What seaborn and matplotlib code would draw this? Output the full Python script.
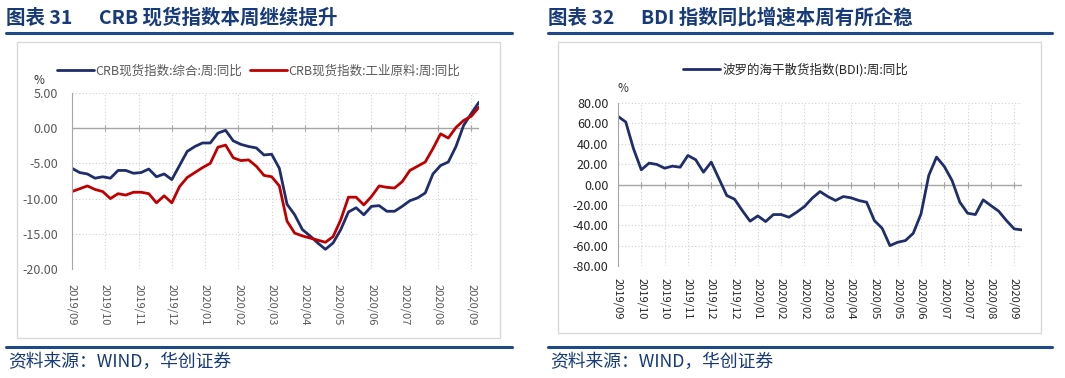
import numpy as np
import pandas as pd
import seaborn as sns
import matplotlib.pyplot as plt
from matplotlib.patches import Rectangle
from matplotlib.lines import Line2D

# 左图: CRB现货指数周同比 (%)
crb_total = [-5.7, -6.3, -6.5, -7.1, -6.9, -7.1, -6.0, -6.0, -6.4, -6.3, -5.8, -6.9, -6.5, -7.3,
             -5.3, -3.3, -2.6, -2.1, -2.1, -0.7, -0.3, -1.8, -2.3, -2.6, -2.8, -3.8, -3.7, -5.7,
             -10.8, -12.3, -14.4, -15.3, -16.3, -17.2, -16.3, -14.4, -11.9, -11.3, -12.3, -11.1,
             -11.0, -11.8, -11.8, -11.1, -10.3, -9.9, -9.2, -6.5, -5.3, -4.8, -2.6, 0.4, 2.1, 3.7]
crb_raw = [-9.0, -8.6, -8.2, -8.7, -9.0, -10.0, -9.3, -9.5, -9.1, -9.1, -9.3, -10.6, -9.6, -10.6,
           -8.3, -7.0, -6.3, -5.6, -5.0, -2.7, -2.4, -4.2, -4.6, -4.5, -5.4, -6.7, -6.9, -8.2,
           -13.2, -14.9, -15.3, -15.6, -15.9, -16.2, -15.4, -13.0, -9.8, -9.8, -10.9, -9.7,
           -8.2, -8.4, -8.5, -7.6, -6.0, -5.4, -4.8, -2.9, -0.8, -1.4, 0.1, 1.1, 1.7, 3.0]
left_ticklabels = ["2019/09", "2019/10", "2019/11", "2019/12", "2020/01", "2020/02", "2020/03",
                   "2020/04", "2020/05", "2020/06", "2020/07", "2020/08", "2020/09"]

# 右图: BDI周同比 (%)
bdi = [66.9, 61.3, 35.0, 14.4, 21.0, 19.7, 16.0, 18.0, 17.0, 28.5, 24.3, 12.1, 22.0, 5.6,
       -10.8, -14.4, -25.6, -36.0, -30.8, -36.4, -29.5, -29.5, -32.1, -27.2, -21.6, -13.4,
       -6.9, -11.8, -15.7, -11.8, -13.1, -15.7, -17.4, -35.4, -43.0, -60.0, -56.7, -55.0,
       -47.9, -28.9, 8.9, 26.9, 17.7, 3.9, -17.4, -28.2, -29.5, -15.1, -20.7, -26.2, -35.4,
       -43.6, -44.6]
right_ticklabels = ["2019/09", "2019/10", "2019/10", "2019/11", "2019/12", "2019/12", "2020/01",
                    "2020/02", "2020/02", "2020/03", "2020/04", "2020/05", "2020/05", "2020/06",
                    "2020/07", "2020/07", "2020/08", "2020/09"]

sns.set_style("white")
plt.rcParams['font.family'] = ['Noto Sans CJK SC', 'DejaVu Sans']

W, H = 1065, 378
NAVY = "#1f2d6b"
RED = "#c00000"
TITLE = "#173a78"
GRAY = "#595959"

fig = plt.figure(figsize=(W / 100, H / 100), dpi=100)


def ax_at(x0, y0, x1, y1):
    return fig.add_axes([x0 / W, 1 - y1 / H, (x1 - x0) / W, (y1 - y0) / H])


def frame(x0, head, title, rule_x1, box):
    fig.text(x0 / W, 1 - 18 / H, head, fontsize=14, fontweight="bold", color=TITLE,
             va="center", ha="left")
    fig.text((x0 + 93) / W, 1 - 18 / H, title, fontsize=14, fontweight="bold", color=TITLE,
             va="center", ha="left")
    fig.add_artist(Line2D([x0 / W, rule_x1 / W], [1 - 33 / H] * 2, color="#1f4a8a", lw=2.2))
    fig.add_artist(Line2D([x0 / W, rule_x1 / W], [1 - 347 / H] * 2, color="#1f4a8a", lw=2.2))
    bx0, by0, bx1, by1 = box
    fig.add_artist(Rectangle((bx0 / W, 1 - by1 / H), (bx1 - bx0) / W, (by1 - by0) / H,
                             fill=False, ec="#d9d9d9", lw=1))
    fig.text((x0 + 2) / W, 1 - 362 / H, "资料来源：WIND，华创证券", fontsize=12.8,
             color=TITLE, style="italic", va="center", ha="left")


def style_axes(ax, ticks, labels, ylim, ystep, lab_color, xpad, ypad):
    ax.set_ylim(*ylim)
    ax.set_yticks(np.arange(ylim[0], ylim[1] + 0.01, ystep))
    ax.set_yticklabels([f"{v:.2f}" for v in np.arange(ylim[0], ylim[1] + 0.01, ystep)],
                       fontsize=9, color=lab_color)
    ax.set_xticks(ticks)
    ax.set_xticklabels(labels, rotation=-90, fontsize=8, color=lab_color, va="top")
    ax.grid(True, color="#d0d0d0", ls=(0, (1, 2)), lw=0.8)
    for s in ["top", "right", "bottom"]:
        ax.spines[s].set_visible(False)
    ax.spines["left"].set_color("#a6a6a6")
    ax.axhline(0, color="#a6a6a6", lw=1, zorder=1)
    ax.tick_params(axis="both", length=0)
    ax.tick_params(axis="y", pad=ypad)
    ax.tick_params(axis="x", pad=xpad)
    ax.set_xlabel("")
    ax.set_ylabel("")


# ---- left panel ----
frame(6, "图表 31", "CRB 现货指数本周继续提升", 512, (17, 42, 500, 338))
ax1 = ax_at(72, 93, 479, 269)
df1 = pd.DataFrame({"i": np.arange(len(crb_total)), "total": crb_total, "raw": crb_raw})
sns.lineplot(data=df1, x="i", y="total", ax=ax1, color=NAVY, lw=2,
             label="CRB现货指数:综合:周:同比")
sns.lineplot(data=df1, x="i", y="raw", ax=ax1, color=RED, lw=2,
             label="CRB现货指数:工业原料:周:同比")
ax1.set_xlim(0, len(crb_total) - 1)
t1 = np.linspace(0, 52, len(left_ticklabels))
style_axes(ax1, t1, left_ticklabels, (-20, 5), 5, GRAY, 11, 10)
ax1.plot(t1, np.zeros(len(t1)), ls="none", marker="|", ms=4, color="#a6a6a6", mew=0.8)
ax1.legend(loc="lower left", bbox_to_anchor=(-0.05, 1.06), ncol=2, frameon=False,
           fontsize=9, handlelength=3.0, handletextpad=0.1, columnspacing=0.6,
           labelcolor=GRAY, borderaxespad=0)
fig.text(34 / W, 1 - 80 / H, "%", fontsize=8.5, color="#333333", va="center")

# ---- right panel ----
frame(548, "图表 32", "BDI 指数同比增速本周有所企稳", 1052, (558, 42, 1041, 333))
ax2 = ax_at(618, 103, 1022, 266)
df2 = pd.DataFrame({"i": np.arange(len(bdi)), "bdi": bdi})
sns.lineplot(data=df2, x="i", y="bdi", ax=ax2, color=NAVY, lw=2,
             label="波罗的海干散货指数(BDI):周:同比")
ax2.set_xlim(0, len(bdi) - 1)
t2 = np.arange(0, 3 * len(right_ticklabels), 3)
style_axes(ax2, t2, right_ticklabels, (-80, 80), 20, "#262626", 9, 7)
ax2.plot(t2, np.zeros(len(t2)), ls="none", marker="|", ms=4, color="#a6a6a6", mew=0.8)
ax2.legend(loc="lower center", bbox_to_anchor=(0.44, 1.13), frameon=False, fontsize=9,
           handlelength=3.0, handletextpad=0.2, labelcolor="#262626", borderaxespad=0)
fig.text(617 / W, 1 - 88 / H, "%", fontsize=8.5, color="#333333", va="center")

fig.savefig("out.png", dpi=100)
